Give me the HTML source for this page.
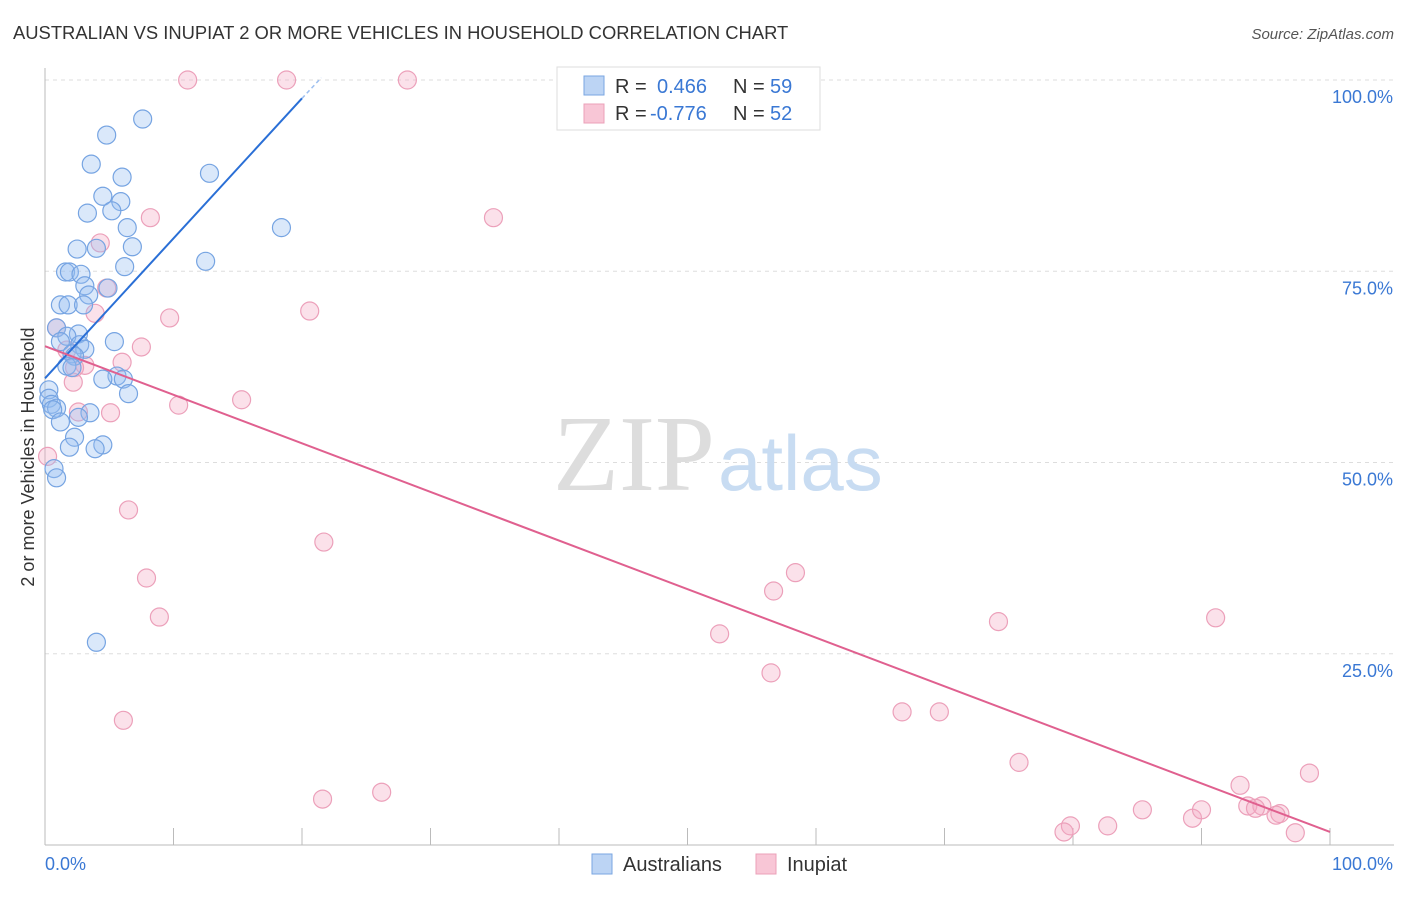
<!DOCTYPE html>
<html><head><meta charset="utf-8"><style>
body{margin:0;background:#fff;font-family:"Liberation Sans",sans-serif}
</style></head><body>
<svg width="1406" height="892" viewBox="0 0 1406 892" xmlns="http://www.w3.org/2000/svg">
<text x="13" y="39" font-size="18.4" fill="#333">AUSTRALIAN VS INUPIAT 2 OR MORE VEHICLES IN HOUSEHOLD CORRELATION CHART</text>
<text x="1394" y="39" font-size="15" fill="#555" font-style="italic" text-anchor="end">Source: ZipAtlas.com</text>
<g id="grid"></g>
<g>
<text x="553" y="490" font-family="Liberation Serif" font-size="108" fill="#ddd">ZIP</text>
<text x="718" y="490" font-size="78" fill="#c8dcf2">atlas</text>
</g>
<g id="axes"></g>
<g id="pts"></g>
<g id="trends"></g>
<text transform="translate(34,457) rotate(-90)" font-size="18" fill="#333" text-anchor="middle">2 or more Vehicles in Household</text>
<text x="45" y="870" font-size="18" fill="#3a78d4">0.0%</text>
<text x="1393" y="870" font-size="18" fill="#3a78d4" text-anchor="end">100.0%</text>
<g>
<rect x="557" y="67" width="263" height="63" fill="#fff" stroke="#ddd"/>
<rect x="584" y="76" width="20" height="19" fill="#bcd4f4" stroke="#7aa6e2"/>
<rect x="584" y="104" width="20" height="19" fill="#f8c6d6" stroke="#eba0b8"/>
<text y="93" font-size="20" fill="#333"><tspan x="615">R =</tspan><tspan x="657" fill="#3a78d4">0.466</tspan><tspan x="733">N =</tspan><tspan x="770" fill="#3a78d4">59</tspan></text>
<text y="120" font-size="20" fill="#333"><tspan x="615">R =</tspan><tspan x="650" fill="#3a78d4">-0.776</tspan><tspan x="733">N =</tspan><tspan x="770" fill="#3a78d4">52</tspan></text>
</g>
<g>
<rect x="592" y="854" width="20" height="20" fill="#bcd4f4" stroke="#7aa6e2"/>
<text x="623" y="871" font-size="20" fill="#333">Australians</text>
<rect x="756" y="854" width="20" height="20" fill="#f8c6d6" stroke="#eba0b8"/>
<text x="787" y="871" font-size="20" fill="#333">Inupiat</text>
</g>
</svg>
<script>
const yTicks=[25,50,75,100];
const yTickLabels=["25.0%","50.0%","75.0%","100.0%"];
const xTicks=[0,10,20,30,40,50,60,70,80,90,100];
const ausX=[7.6,4.8,3.6,12.8,6.0,4.5,5.9,3.3,5.2,6.4,18.4,2.5,4.0,6.8,12.5,6.2,1.6,1.9,2.8,3.1,4.9,3.4,1.2,1.8,3.0,0.9,2.6,1.7,1.2,5.4,2.7,3.1,2.1,2.3,1.7,2.1,5.6,4.5,6.1,0.3,0.3,6.5,0.5,0.9,0.6,3.5,2.6,1.2,2.3,1.9,4.5,3.9,0.7,0.9,4.0];
const ausY=[94.9,92.8,89.0,87.8,87.3,84.8,84.1,82.6,82.9,80.7,80.7,77.9,78.0,78.2,76.3,75.6,74.9,74.9,74.6,73.1,72.8,71.9,70.6,70.6,70.6,67.6,66.8,66.5,65.8,65.8,65.4,64.8,64.2,63.9,62.6,62.4,61.3,60.9,60.9,59.5,58.4,59.0,57.6,57.1,56.9,56.5,55.9,55.3,53.3,52.0,52.3,51.8,49.2,48.0,26.5];
const inuX=[11.1,18.8,28.2,8.2,34.9,4.3,4.8,20.6,9.7,3.9,0.9,7.5,1.7,3.1,6.0,2.3,2.2,2.6,5.1,10.4,15.3,0.2,6.5,21.7,7.9,8.9,58.4,56.7,52.5,74.2,91.1,56.5,6.1,66.7,69.6,75.8,21.6,26.2,79.8,79.3,82.7,85.4,89.3,90.0,93.0,93.6,94.7,96.1,95.8,97.3,98.4,94.2];
const inuY=[100,100,100,82.0,82.0,78.7,72.8,69.8,68.9,69.5,67.6,65.1,64.7,62.7,63.1,62.4,60.5,56.6,56.5,57.5,58.2,50.8,43.8,39.6,34.9,29.8,35.6,33.2,27.6,29.2,29.7,22.5,16.3,17.4,17.4,10.8,6.0,6.9,2.5,1.7,2.5,4.6,3.5,4.6,7.8,5.1,5.1,4.1,3.9,1.6,9.4,4.8];
const ausTrend=[[0,61.0],[20,97.6]];
const ausTrendDash=[[20,97.6],[21.5,100.3]];
const inuTrend=[[0,65.2],[100,1.7]];
const NS="http://www.w3.org/2000/svg";
const X=v=>45+v*12.85, Y=v=>845-v*7.65;
function mk(t,a,p){const e=document.createElementNS(NS,t);for(const k in a)e.setAttribute(k,a[k]);p.appendChild(e);return e;}
const grid=document.getElementById('grid'),axes=document.getElementById('axes');
yTicks.forEach((t,i)=>{
 const l=mk('line',{x1:45,x2:1394,y1:Y(t),y2:Y(t),stroke:'#ddd','stroke-dasharray':'4,4'},grid);
 
 
 const tx=mk('text',{x:1393,y:Y(t)+23,'font-size':18,fill:'#3a78d4','text-anchor':'end'},axes);
 tx.textContent=yTickLabels[i];
 
 
});
mk('line',{x1:45,x2:45,y1:68,y2:845,stroke:'#bbb'},axes);
mk('line',{x1:45,x2:1394,y1:845,y2:845,stroke:'#bbb'},axes);
xTicks.forEach(t=>{const l=mk('line',{x1:X(t),x2:X(t),y1:828,y2:845,stroke:'#bbb'},axes);
 
 });
const pts=document.getElementById('pts');
inuX.forEach((x,i)=>{const c=mk('circle',{cx:X(x),cy:Y(inuY[i]),r:9,fill:'rgba(244,170,196,0.35)',stroke:'#eca0ba','stroke-width':1.2},pts);
 
 });
ausX.forEach((x,i)=>{const c=mk('circle',{cx:X(x),cy:Y(ausY[i]),r:9,fill:'rgba(150,190,240,0.35)',stroke:'#76a4e2','stroke-width':1.2},pts);
 
 });
const tr=document.getElementById('trends');
let l1=mk('line',{x1:X(ausTrend[0][0]),y1:Y(ausTrend[0][1]),x2:X(ausTrend[1][0]),y2:Y(ausTrend[1][1]),stroke:'#2a6fd6','stroke-width':2},tr);


let l2=mk('line',{x1:X(ausTrendDash[0][0]),y1:Y(ausTrendDash[0][1]),x2:X(ausTrendDash[1][0]),y2:Y(ausTrendDash[1][1]),stroke:'#9dbff0','stroke-width':1.5,'stroke-dasharray':'4,3'},tr);


let l3=mk('line',{x1:X(inuTrend[0][0]),y1:Y(inuTrend[0][1]),x2:X(inuTrend[1][0]),y2:Y(inuTrend[1][1]),stroke:'#e0608f','stroke-width':2},tr);


</script>
</body></html>
